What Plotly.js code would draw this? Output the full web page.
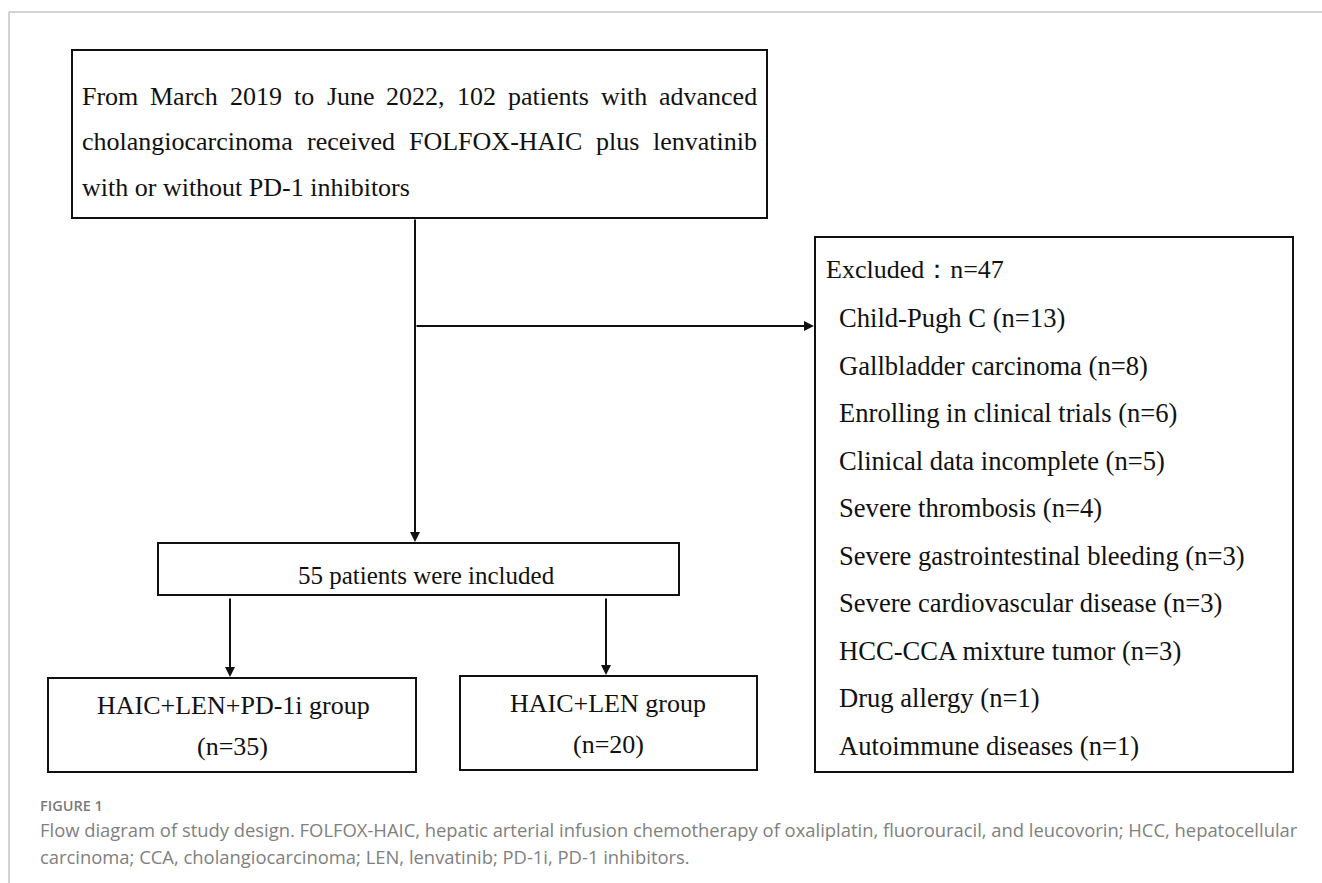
<!DOCTYPE html>
<html>
<head>
<meta charset="utf-8">
<script src="https://cdn.plot.ly/plotly-3.0.1.min.js"></script>
<style>html,body{margin:0;padding:0;background:#fff;}#chart{width:1322px;height:883px;}</style>
</head>
<body>
<div id="chart"></div>
<script>
// ---- data ----
const topLines = [
  "From March 2019 to June 2022, 102 patients with advanced",
  "cholangiocarcinoma received FOLFOX-HAIC plus lenvatinib",
  "with or without PD-1 inhibitors"
];
const excludedTotal = 47;
const exclusionReasons = [
  "Child-Pugh C", "Gallbladder carcinoma", "Enrolling in clinical trials",
  "Clinical data incomplete", "Severe thrombosis", "Severe gastrointestinal bleeding",
  "Severe cardiovascular disease", "HCC-CCA mixture tumor", "Drug allergy",
  "Autoimmune diseases"
];
const exclusionCounts = [13, 8, 6, 5, 4, 3, 3, 3, 1, 1];
const includedN = 55;
const groupNames = ["HAIC+LEN+PD-1i group", "HAIC+LEN group"];
const groupCounts = [35, 20];
const captionLabel = "FIGURE 1";
const captionLines = [
  "Flow diagram of study design. FOLFOX-HAIC, hepatic arterial infusion chemotherapy of oxaliplatin, fluorouracil, and leucovorin; HCC, hepatocellular",
  "carcinoma; CCA, cholangiocarcinoma; LEN, lenvatinib; PD-1i, PD-1 inhibitors."
];

// ---- layout geometry (pixel space) ----
const SERIF = "Liberation Serif, Times New Roman, serif";
const FS = 26;
const FS_LIST = 26.6;
const ink = "#111";
const boxes = {
  top: [72, 50, 767, 218],
  excl: [815, 237, 1293, 772],
  incl: [158, 543, 679, 595],
  g1: [48, 678, 416, 772],
  g2: [460, 676, 757, 770]
};

const shapes = [];
shapes.push({type: "line", x0: 9, y0: 12, x1: 1322, y1: 12, line: {color: "#c4c4c4", width: 1.5}});
shapes.push({type: "line", x0: 9, y0: 12, x1: 9, y1: 883, line: {color: "#c4c4c4", width: 1.5}});
for (const k in boxes) {
  const b = boxes[k];
  shapes.push({type: "rect", x0: b[0], y0: b[1], x1: b[2], y1: b[3], line: {color: ink, width: 2}, fillcolor: "rgba(0,0,0,0)"});
}

const annotations = [];
function txt(text, x, y, opts) {
  annotations.push(Object.assign({
    text: text, x: x, y: y, xref: "x", yref: "y", showarrow: false,
    xanchor: "left", yanchor: "middle",
    font: {family: SERIF, size: FS, color: ink}
  }, opts || {}));
}
function arrow(x0, y0, x1, y1) {
  annotations.push({
    x: x1, y: y1, ax: x0, ay: y0, xref: "x", yref: "y", axref: "x", ayref: "y",
    text: "", showarrow: true, arrowhead: 2, arrowsize: 1, arrowwidth: 2,
    arrowcolor: ink, standoff: 0, startstandoff: 0
  });
}

// justified text for the top box
const cv = document.createElement("canvas").getContext("2d");
cv.font = FS + "px 'Liberation Serif'";
function justify(line, x0, x1, y) {
  const words = line.split(" ");
  const widths = words.map(w => cv.measureText(w).width);
  const sum = widths.reduce((a, b) => a + b, 0);
  const gap = (x1 - x0 - sum) / (words.length - 1);
  let x = x0;
  words.forEach((w, i) => { txt(w, x - 2, y); x += widths[i] + gap; });
}
const topY = [96, 141, 187];
justify(topLines[0], 82, 757, topY[0]);
justify(topLines[1], 82, 757, topY[1]);
txt(topLines[2], 80, topY[2]);

// exclusion box
const listFont = {family: SERIF, size: FS_LIST, color: ink};
txt("Excluded\uFF1An=" + excludedTotal, 824, 269);
const exclY0 = 318, exclStep = 47.5;
exclusionReasons.forEach((r, i) => {
  txt(r + " (n=" + exclusionCounts[i] + ")", 837, exclY0 + i * exclStep, {font: listFont});
});

// included box
txt(includedN + " patients were included", 426, 575, {xanchor: "center", font: {family: SERIF, size: 25, color: ink}});

// group boxes
txt(groupNames[0], 233, 705, {xanchor: "center"});
txt("(n=" + groupCounts[0] + ")", 232, 746, {xanchor: "center"});
txt(groupNames[1], 608, 703, {xanchor: "center"});
txt("(n=" + groupCounts[1] + ")", 608, 744, {xanchor: "center"});

// arrows
arrow(415, 218, 415, 542);
arrow(415, 326, 814, 326);
arrow(230, 597, 230, 677);
arrow(606, 597, 606, 675);

// caption
txt(captionLabel, 38, 805, {font: {family: "Open Sans, sans-serif", size: 14.5, color: "#7a7a7a", weight: 600}});
txt(captionLines[0], 38, 829, {font: {family: "Open Sans, sans-serif", size: 18.4, color: "#808080"}});
txt(captionLines[1], 38, 856, {font: {family: "Open Sans, sans-serif", size: 18.4, color: "#808080"}});

const layout = {
  width: 1322, height: 883,
  margin: {l: 0, r: 0, t: 0, b: 0},
  paper_bgcolor: "#fff", plot_bgcolor: "#fff",
  xaxis: {range: [0, 1322], visible: false, fixedrange: true},
  yaxis: {range: [883, 0], visible: false, fixedrange: true},
  shapes: shapes, annotations: annotations, showlegend: false
};
Plotly.newPlot("chart", [], layout, {staticPlot: true, displayModeBar: false});
</script>
</body>
</html>
